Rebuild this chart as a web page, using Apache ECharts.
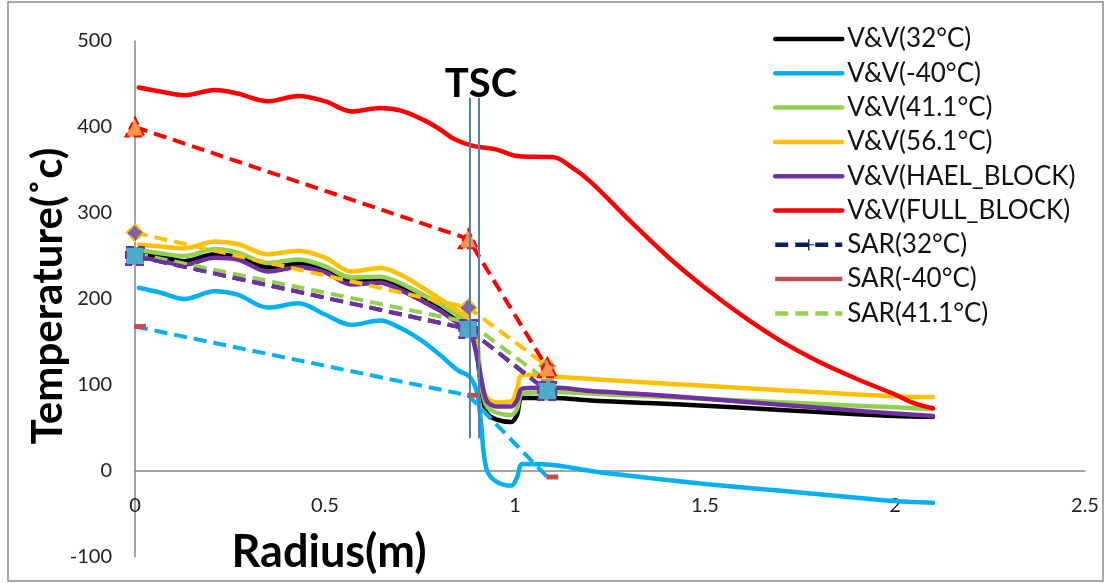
<!DOCTYPE html>
<html>
<head>
<meta charset="utf-8">
<script src="https://cdn.jsdelivr.net/npm/echarts@6/dist/echarts.min.js"></script>
<style>
  html, body { margin: 0; padding: 0; background: #ffffff; }
  #chart { width: 1110px; height: 583px; }
</style>
</head>
<body>
<div id="chart"></div>
<script>
// Radial temperature profiles (m, °C)
const radius = [0.01, 0.07, 0.13, 0.21, 0.27, 0.35, 0.43, 0.5, 0.57, 0.645, 0.7, 0.75, 0.8, 0.85, 0.88,
                0.9, 0.91, 0.925, 0.95, 0.99, 1.005, 1.02, 1.1, 1.2, 1.35, 1.5, 1.7, 1.9, 2.0, 2.1];
const vv32     = [253, 249, 244, 252, 249, 237, 241, 235, 221, 223, 213, 201, 189, 174, 165,
                  135, 100, 68, 60, 57, 65, 85, 85, 82, 79, 76, 71, 66, 64, 63];
const vvMinus40 = [213, 207, 200, 209, 205, 190, 195, 182, 170, 175, 166, 153, 136, 117, 110,
                  92, 58, 2, -12, -17, -8, 8, 7, 0, -8, -15, -23, -31, -35, -37];
const vv41     = [257, 253, 250, 258, 254, 242, 246, 238, 225, 226, 218, 207, 195, 180, 171,
                  145, 102, 76, 68, 65, 72, 90, 92, 90, 87, 84, 80, 76, 74, 72];
const vv56     = [263, 261, 259, 267, 264, 252, 256, 248, 232, 236, 228, 215, 201, 186, 176,
                  152, 108, 86, 80, 81, 95, 112, 110, 107, 103, 99, 94, 89, 87, 86];
const vvHael   = [249, 244, 240, 248, 246, 232, 237, 231, 217, 219, 210, 199, 187, 172, 164,
                  133, 110, 82, 75, 75, 82, 96, 97, 93, 89, 84, 77, 70, 67, 64];

// Fully blocked case has its own radial sampling
const fullRadius = [0.01, 0.07, 0.13, 0.21, 0.27, 0.35, 0.43, 0.5, 0.57, 0.645, 0.7, 0.76, 0.8, 0.84, 0.89,
                    0.95, 1.01, 1.1, 1.15, 1.2, 1.3, 1.4, 1.5, 1.6, 1.7, 1.8, 1.9, 2.0, 2.05, 2.1];
const vvFull     = [446, 441, 437, 443, 439, 430, 436, 430, 418, 422, 419, 408, 398, 386, 378,
                    374, 366, 365, 353, 336, 292, 250, 213, 180, 151, 127, 107, 89, 79, 73];

// SAR reference points
const sarRadius  = [0, 0.877, 1.085];
const sar32      = [250, 165, 93];
const sarMinus40 = [168, 88, -7];
const sar41      = [253, 173, 105];
const sar56      = [277, 190, 122];
const sarHael    = [250, 165, 93];
const sarFull    = [400, 270, 120];

// TSC boundaries (m) and drawn vertical extent (°C)
const tscEdges = [0.882, 0.905];
const tscSpan  = [38, 434];

const legendNames = ['V&V(32°C)', 'V&V(-40°C)', 'V&V(41.1°C)', 'V&V(56.1°C)', 'V&V(HAEL_BLOCK)',
                     'V&V(FULL_BLOCK)', 'SAR(32°C)', 'SAR(-40°C)', 'SAR(41.1°C)'];

const pair = (xs, ys) => xs.map((x, i) => [x, ys[i]]);
const FONT = 'Lato, "Open Sans", sans-serif';
const DASH = [13, 7];

function vvSeries(name, xs, values, color) {
  return {
    name, type: 'line', data: pair(xs, values),
    symbol: 'none', smooth: 0.35,
    lineStyle: { color, width: 4.5, cap: 'round', join: 'round' }, itemStyle: { color },
    emphasis: { disabled: true }
  };
}

function sarSeries(name, values, lineColor, symbol, symbolSize, fill, border, extra) {
  return Object.assign({
    name, type: 'line', data: pair(sarRadius, values),
    symbol, symbolSize,
    lineStyle: { color: lineColor, width: 4, type: DASH },
    itemStyle: { color: fill, borderColor: border, borderWidth: border ? 2 : 0, borderType: 'dashed' },
    emphasis: { disabled: true }
  }, extra || {});
}

const plusPath = 'path://M4.4,0h1.2v14h-1.2z M0,6.4h10v1.2h-10z';

const series = [
  vvSeries('V&V(32°C)', radius, vv32, '#000000'),
  vvSeries('V&V(-40°C)', radius, vvMinus40, '#00B0F0'),
  vvSeries('V&V(41.1°C)', radius, vv41, '#92D050'),
  vvSeries('V&V(56.1°C)', radius, vv56, '#FFC000'),
  vvSeries('V&V(HAEL_BLOCK)', radius, vvHael, '#7030A0'),
  vvSeries('V&V(FULL_BLOCK)', fullRadius, vvFull, '#FF0000'),
  sarSeries('SAR(32°C)', sar32, '#002060', plusPath, [10, 14], '#002060', null),
  sarSeries('SAR(-40°C)', sarMinus40, '#00B0F0', 'rect', [12, 5], '#C0504D', null, { symbolOffset: [5, 0] }),
  sarSeries('SAR(41.1°C)', sar41, '#92D050', 'rect', [13, 4], '#8DB04E', null),
  sarSeries('SAR(56.1°C)', sar56, '#FFC000', 'diamond', 17, '#8064A2', '#FFC000'),
  sarSeries('SAR(HAEL_BLOCK)', sarHael, '#7030A0', 'rect', 18, '#4BACC6', '#7030A0'),
  sarSeries('SAR(FULL_BLOCK)', sarFull, '#FF0000', 'triangle', 19, '#F79646', '#FF0000'),
  {
    name: 'TSC', type: 'line', data: [], z: 5, silent: true,
    markLine: {
      silent: true, symbol: ['none', 'none'], animation: false,
      label: { show: false },
      lineStyle: { color: '#4F81BD', width: 2, type: 'solid' },
      data: tscEdges.map(x => [{ coord: [x, tscSpan[0]] }, { coord: [x, tscSpan[1]] }])
    }
  }
];

// Legend samples: plain lines, except the navy "+" marker of SAR(32°C)
const hidden = { color: 'rgba(0,0,0,0)', borderWidth: 0, opacity: 0 };
const legendData = legendNames.map(n => {
  if (n === 'SAR(-40°C)') {
    return { name: n, lineStyle: { color: '#C0504D', type: 'solid' }, itemStyle: hidden };
  }
  if (n === 'SAR(32°C)') return { name: n };
  return { name: n, itemStyle: hidden };
});

const chart = echarts.init(document.getElementById('chart'), null, { renderer: 'canvas' });
chart.setOption({
  animation: false,
  backgroundColor: '#ffffff',
  grid: { left: 135, right: 25, top: 41, bottom: 26, containLabel: false, outerBoundsMode: 'none' },
  legend: {
    data: legendData, orient: 'vertical', left: 773, top: 24, padding: 0,
    itemWidth: 67, itemHeight: 14, itemGap: 4.3,
    selectedMode: false,
    lineStyle: { width: 4.5 },
    textStyle: { fontFamily: FONT, fontSize: 26, color: '#111111', lineHeight: 30 }
  },
  xAxis: {
    type: 'value', min: 0, max: 2.5, interval: 0.5,
    axisLine: { onZero: true, lineStyle: { color: '#868686', width: 1.5 } },
    axisTick: { show: false },
    splitLine: { show: false },
    axisLabel: { fontFamily: FONT, fontSize: 20, color: '#222222', margin: -61 }
  },
  yAxis: {
    type: 'value', min: -100, max: 500, interval: 100,
    axisLine: { show: true, lineStyle: { color: '#868686', width: 1.5 } },
    axisTick: { show: false },
    splitLine: { show: false },
    axisLabel: { fontFamily: FONT, fontSize: 20, color: '#222222', margin: 23 }
  },
  graphic: [
    { type: 'rect', silent: true, z: -1,
      shape: { x: 8, y: 2, width: 1095, height: 579 },
      style: { fill: 'none', stroke: '#8c8c8c', lineWidth: 1.5 } },
    { type: 'text', silent: true, x: 48, y: 296, rotation: Math.PI / 2,
      style: { text: 'Temperature(˚c)', font: 'bold 42px ' + FONT, fill: '#000000', align: 'center', verticalAlign: 'middle' } },
    { type: 'text', silent: true, x: 329, y: 552,
      style: { text: 'Radius(m)', font: 'bold 45px ' + FONT, fill: '#000000', align: 'center', verticalAlign: 'middle' } },
    { type: 'text', silent: true, x: 481, y: 84,
      style: { text: 'TSC', font: 'bold 40px ' + FONT, fill: '#000000', align: 'center', verticalAlign: 'middle' } }
  ],
  series
});
</script>
</body>
</html>
